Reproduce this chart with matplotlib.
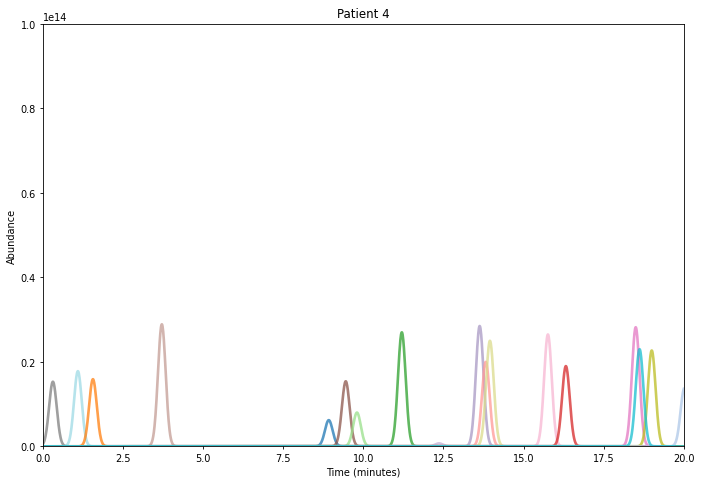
import numpy as np
import matplotlib
matplotlib.use("Agg")
import matplotlib.pyplot as plt

# peak list: centre (min), height, width (min), colour
centers = [0.31, 1.09, 1.56, 3.71, 8.92, 9.45, 9.80, 11.20, 12.36, 13.63,
           13.82, 13.95, 15.76, 16.32, 18.50, 19.00, 20.02, 18.62]
heights = [0.153e14, 0.178e14, 0.159e14, 0.289e14, 0.062e14, 0.154e14, 0.080e14,
           0.270e14, 0.007e14, 0.285e14, 0.200e14, 0.250e14, 0.265e14, 0.190e14,
           0.282e14, 0.227e14, 0.138e14, 0.230e14]
widths = [0.12, 0.12, 0.12, 0.12, 0.12, 0.12, 0.12, 0.12, 0.12, 0.12,
          0.12, 0.12, 0.12, 0.12, 0.12, 0.12, 0.12, 0.12]
colors = ["#7f7f7f", "#9edae5", "#ff7f0e", "#c49c94", "#1f77b4", "#8c564b",
          "#98df8a", "#2ca02c", "#c5b0d5", "#a898c4", "#ff9896", "#dbdb8d",
          "#f7b6d2", "#d62728", "#e377c2", "#bcbd22", "#aec7e8", "#17becf"]

time = np.linspace(0, 20, 2000)

plt.rcParams.update({
    "axes.linewidth": 0.6,
    "xtick.major.size": 2.5,
    "ytick.major.size": 2.5,
    "xtick.major.width": 0.6,
    "ytick.major.width": 0.6,
    "axes.labelpad": 2.5,
})

fig, ax = plt.subplots(figsize=(7.16, 4.81), dpi=100)
fig.subplots_adjust(left=0.06, right=0.955, top=0.948, bottom=0.07)

for c, h, w, col in zip(centers, heights, widths, colors):
    ax.plot(time, h * np.exp(-0.5 * ((time - c) / w) ** 2), color=col, lw=1.9, alpha=0.75)

ax.set_xlim(0, 20)
ax.set_ylim(0, 1e14)
ax.set_title("Patient 4", fontsize=8.5, pad=5)
ax.set_xlabel("Time (minutes)", fontsize=7)
ax.set_ylabel("Abundance", fontsize=7)
ax.tick_params(labelsize=7, pad=2.5)
ax.yaxis.get_offset_text().set_fontsize(7)

fig.savefig("out.png", dpi=100)
